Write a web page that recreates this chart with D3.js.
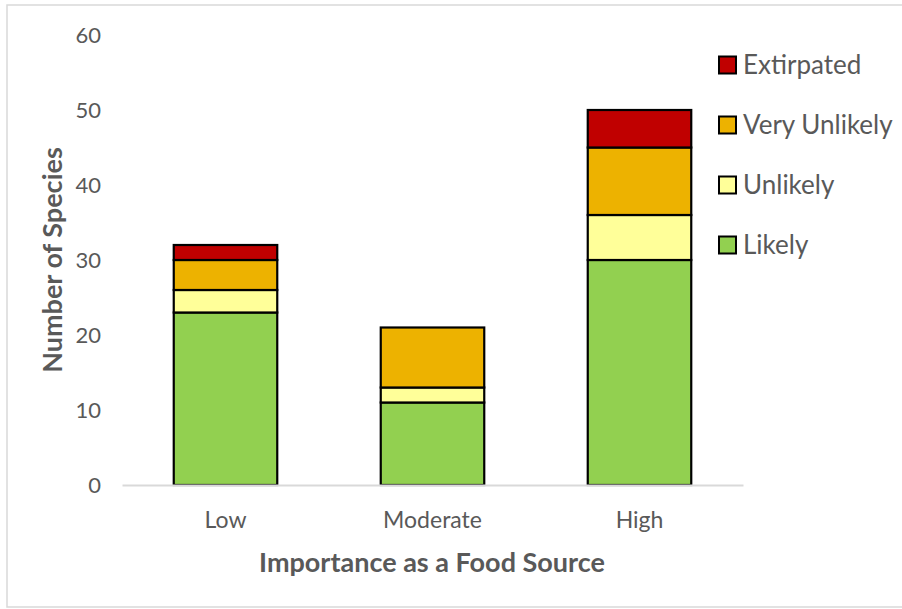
<!DOCTYPE html>
<html>
<head>
<meta charset="utf-8">
<script src="https://cdn.jsdelivr.net/npm/d3@7"></script>
<style>
html,body{margin:0;padding:0;background:#fff;}
svg{display:block;}
text{font-family:Lato,"Open Sans",sans-serif;}
</style>
</head>
<body>
<svg id="chart" width="902" height="609"></svg>
<script>
const categories = ["Low", "Moderate", "High"];
const seriesNames = ["Likely", "Unlikely", "Very Unlikely", "Extirpated"];
const likely = [23, 11, 30];
const unlikely = [3, 2, 6];
const veryUnlikely = [4, 8, 9];
const extirpated = [2, 0, 5];
const yTicks = [0, 10, 20, 30, 40, 50, 60];
const colors = ["#92D050", "#FFFF99", "#EDB200", "#C00000"];

const svg = d3.select("#chart");
// outer frame
svg.append("rect").attr("x", 7).attr("y", 5).attr("width", 900).attr("height", 602)
  .attr("fill", "none").attr("stroke", "#D9D9D9").attr("stroke-width", 1.5);

const rows = categories.map((c, i) => ({
  cat: c, "Likely": likely[i], "Unlikely": unlikely[i],
  "Very Unlikely": veryUnlikely[i], "Extirpated": extirpated[i]
}));
const stacked = d3.stack().keys(seriesNames)(rows);

const x = d3.scaleBand().domain(categories).range([122, 743]).paddingInner(0.5).paddingOuter(0.25);
const y = d3.scaleLinear().domain([0, 60]).range([485, 35]);
const color = d3.scaleOrdinal().domain(seriesNames).range(colors);

// y tick labels
const yAxis = svg.append("g").attr("transform", "translate(101,0)")
  .call(d3.axisLeft(y).tickValues(yTicks).tickSize(0).tickPadding(0));
yAxis.select(".domain").remove();
yAxis.selectAll("text").attr("font-size", 22).attr("fill", "#595959")
  .attr("font-family", "Lato, sans-serif");

// bars
svg.append("g").selectAll("g").data(stacked).join("g")
  .attr("fill", d => color(d.key))
  .selectAll("rect").data(d => d.filter(s => s[1] - s[0] > 0)).join("rect")
  .attr("x", d => x(d.data.cat))
  .attr("y", d => y(d[1]))
  .attr("width", x.bandwidth())
  .attr("height", d => y(d[0]) - y(d[1]))
  .attr("stroke", "#000").attr("stroke-width", 2.2);

// x axis
const xAxis = svg.append("g").attr("transform", "translate(0,485)")
  .call(d3.axisBottom(x).tickSize(0));
xAxis.select(".domain").attr("stroke", "#D9D9D9").attr("stroke-width", 2);
xAxis.selectAll("text").attr("y", 35).attr("dy", "0.35em")
  .attr("font-size", 23).attr("fill", "#595959")
  .attr("font-family", "Lato, sans-serif");

// axis titles
svg.append("text").attr("x", 432).attr("y", 572).attr("text-anchor", "middle")
  .attr("font-size", 27).attr("font-weight", "bold").attr("fill", "#595959")
  .text("Importance as a Food Source");
svg.append("text").attr("transform", "translate(62,260) rotate(-90)")
  .attr("text-anchor", "middle").attr("font-size", 27).attr("font-weight", "bold")
  .attr("fill", "#595959").text("Number of Species");

// legend
const legendOrder = seriesNames.slice().reverse();
const leg = svg.append("g").selectAll("g").data(legendOrder).join("g")
  .attr("transform", (d, i) => `translate(719,${65 + i * 60})`);
leg.append("rect").attr("x", 0).attr("y", -8.5).attr("width", 17).attr("height", 17)
  .attr("fill", d => color(d)).attr("stroke", "#000").attr("stroke-width", 2);
leg.append("text").attr("x", 24).attr("y", 0).attr("dy", "0.35em")
  .attr("font-size", 26).attr("fill", "#595959").text(d => d);
</script>
</body>
</html>
